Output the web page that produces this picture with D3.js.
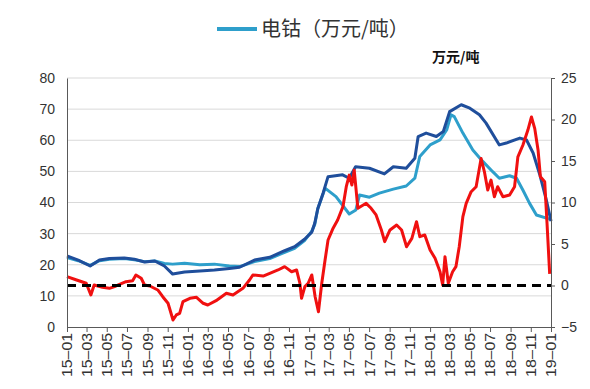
<!DOCTYPE html>
<meta charset="utf-8">
<body>
<script src="https://cdn.jsdelivr.net/npm/d3@7"></script>
<style>
    html, body {
        margin: 0;
        background: #fff;
    }
    text { font-family: "Liberation Sans", Arial, sans-serif; }
</style>
<script>
var width = 590,
    height = 389;

// dark blue series (left axis)
var darkSeries = [
    ["2015-01-01", 22.8], ["2015-02-04", 21.5], ["2015-03-12", 19.6], ["2015-04-09", 21.5],
    ["2015-05-09", 22.0], ["2015-06-23", 22.2], ["2015-07-23", 21.8], ["2015-08-23", 20.9],
    ["2015-09-23", 21.2], ["2015-10-22", 19.6], ["2015-11-16", 17.0], ["2015-12-22", 17.7],
    ["2016-02-06", 18.0], ["2016-03-21", 18.3], ["2016-05-05", 18.8], ["2016-06-05", 19.2],
    ["2016-07-20", 21.5], ["2016-09-04", 22.4], ["2016-10-19", 24.5], ["2016-11-18", 25.8],
    ["2016-12-18", 28.2], ["2017-01-09", 30.5], ["2017-01-18", 33.4], ["2017-01-27", 38.0],
    ["2017-02-12", 43.0], ["2017-02-27", 48.3], ["2017-04-12", 48.9], ["2017-05-02", 47.8],
    ["2017-05-21", 51.5], ["2017-07-02", 51.0], ["2017-08-16", 49.2], ["2017-09-12", 51.5],
    ["2017-10-21", 51.0], ["2017-11-16", 54.2], ["2017-11-26", 61.2], ["2017-12-20", 62.3],
    ["2018-01-20", 61.2], ["2018-02-10", 62.8], ["2018-03-01", 69.2], ["2018-04-05", 71.4],
    ["2018-05-01", 70.3], ["2018-05-30", 68.2], ["2018-06-19", 65.5], ["2018-07-29", 58.5],
    ["2018-08-19", 59.1], ["2018-09-29", 60.7], ["2018-10-19", 60.1], ["2018-11-08", 55.9],
    ["2018-11-28", 49.0], ["2018-12-18", 40.8], ["2019-01-01", 34.0]
];

// light blue series: 电钴 (left axis)
var lightSeries = [
    ["2015-01-01", 22.3], ["2015-02-04", 21.3], ["2015-03-12", 19.8], ["2015-04-09", 21.3],
    ["2015-05-09", 21.8], ["2015-06-23", 22.0], ["2015-07-23", 21.6], ["2015-08-23", 21.0],
    ["2015-09-23", 21.2], ["2015-10-22", 20.4], ["2015-11-16", 20.2], ["2015-12-22", 20.5],
    ["2016-02-06", 20.0], ["2016-03-21", 20.2], ["2016-05-05", 19.6], ["2016-06-05", 19.4],
    ["2016-07-20", 21.0], ["2016-09-04", 22.0], ["2016-10-19", 24.0], ["2016-11-18", 25.3],
    ["2016-12-18", 27.8], ["2017-01-09", 30.8], ["2017-01-18", 33.0], ["2017-01-27", 38.0],
    ["2017-02-18", 44.6], ["2017-03-23", 41.9], ["2017-05-02", 36.3], ["2017-05-22", 37.6],
    ["2017-06-02", 42.4], ["2017-07-02", 41.7], ["2017-08-01", 43.0], ["2017-09-12", 44.3],
    ["2017-10-21", 45.3], ["2017-11-16", 47.8], ["2017-12-01", 54.8], ["2018-01-01", 58.5],
    ["2018-01-31", 60.1], ["2018-02-20", 63.3], ["2018-03-05", 68.2], ["2018-03-15", 67.6],
    ["2018-04-10", 62.3], ["2018-05-10", 56.9], ["2018-06-09", 53.2], ["2018-07-09", 49.9],
    ["2018-07-29", 47.8], ["2018-08-29", 48.6], ["2018-09-19", 47.8], ["2018-10-08", 44.0],
    ["2018-10-28", 39.8], ["2018-11-18", 36.0], ["2018-12-18", 35.0], ["2019-01-01", 34.5]
];

// red series (right axis)
var redSeries = [
    ["2015-01-01", 1.06], ["2015-01-30", 0.66], ["2015-02-28", 0.27], ["2015-03-14", -1.14],
    ["2015-03-24", 0.06], ["2015-04-18", -0.22], ["2015-05-09", -0.34], ["2015-05-29", -0.06],
    ["2015-06-28", 0.46], ["2015-07-18", 0.58], ["2015-07-28", 1.27], ["2015-08-13", 0.87],
    ["2015-08-23", 0.06], ["2015-09-08", -0.06], ["2015-10-02", -0.54], ["2015-10-17", -1.35],
    ["2015-11-02", -2.14], ["2015-11-17", -4.16], ["2015-11-27", -3.55], ["2015-12-07", -3.35],
    ["2015-12-17", -1.95], ["2016-01-07", -1.54], ["2016-01-27", -1.42], ["2016-02-16", -2.14],
    ["2016-03-01", -2.35], ["2016-03-26", -1.83], ["2016-04-26", -0.94], ["2016-05-16", -1.14],
    ["2016-06-15", -0.34], ["2016-07-05", 0.66], ["2016-07-15", 1.27], ["2016-08-15", 1.14],
    ["2016-09-04", 1.47], ["2016-09-29", 1.87], ["2016-10-19", 2.27], ["2016-11-09", 1.66],
    ["2016-11-24", 1.87], ["2016-12-04", 0.27], ["2016-12-09", -1.54], ["2016-12-19", -0.14],
    ["2016-12-29", 0.27], ["2017-01-09", 1.27], ["2017-01-19", -1.35], ["2017-01-29", -3.16],
    ["2017-02-08", 0.27], ["2017-02-18", 3.07], ["2017-02-27", 5.48], ["2017-03-13", 6.8],
    ["2017-03-28", 7.89], ["2017-04-13", 9.5], ["2017-04-23", 11.9], ["2017-05-02", 13.3],
    ["2017-05-10", 12.1], ["2017-05-17", 13.9], ["2017-05-28", 9.3], ["2017-06-22", 9.9],
    ["2017-07-07", 9.3], ["2017-07-22", 8.5], ["2017-08-07", 6.69], ["2017-08-17", 5.28],
    ["2017-09-02", 6.69], ["2017-09-22", 7.29], ["2017-10-07", 6.69], ["2017-10-22", 4.67],
    ["2017-11-07", 5.68], ["2017-11-21", 7.69], ["2017-12-01", 5.88], ["2017-12-16", 6.08],
    ["2018-01-01", 4.28], ["2018-01-16", 3.28], ["2018-01-31", 1.66], ["2018-02-08", 0.06],
    ["2018-02-15", 3.47], ["2018-02-25", 0.27], ["2018-03-10", 1.66], ["2018-03-20", 2.27],
    ["2018-03-30", 4.67], ["2018-04-10", 8.29], ["2018-04-20", 9.9], ["2018-05-05", 11.3],
    ["2018-05-20", 11.9], ["2018-06-04", 15.3], ["2018-06-14", 13.7], ["2018-06-24", 11.5],
    ["2018-07-04", 12.7], ["2018-07-14", 10.7], ["2018-07-24", 11.9], ["2018-08-09", 10.7],
    ["2018-08-29", 10.9], ["2018-09-13", 11.9], ["2018-09-23", 15.5], ["2018-10-08", 16.9],
    ["2018-10-23", 18.7], ["2018-11-03", 20.3], ["2018-11-13", 18.9], ["2018-11-23", 16.3],
    ["2018-11-30", 13.1], ["2018-12-13", 12.5], ["2018-12-20", 7.5], ["2018-12-28", 1.4]
];

var leftTicks = [0, 10, 20, 30, 40, 50, 60, 70, 80],
    rightTicks = [-5, 0, 5, 10, 15, 20, 25],
    legendLabel = "电钴（万元/吨）",
    unitLabel = "万元/吨";

var parse = d3.timeParse("%Y-%m-%d");

var x = d3.scaleTime()
    .domain([parse("2015-01-01"), parse("2019-01-01")])
    .range([67, 551]);

var yL = d3.scaleLinear().domain([0, 80]).range([327, 78]);
var yR = d3.scaleLinear().domain([-5, 25]).range([327, 78]);

var svg = d3.select("body").append("svg")
    .attr("width", width)
    .attr("height", height);

// grid
svg.append("g").selectAll("line")
    .data(leftTicks.slice(1))
    .enter().append("line")
    .attr("x1", 67).attr("x2", 551)
    .attr("y1", function(d) { return yL(d); })
    .attr("y2", function(d) { return yL(d); })
    .attr("stroke", "#d9d9d9")
    .attr("stroke-width", 1);

var lineL = d3.line()
    .x(function(d) { return x(parse(d[0])); })
    .y(function(d) { return yL(d[1]); });

var lineR = d3.line()
    .x(function(d) { return x(parse(d[0])); })
    .y(function(d) { return yR(d[1]); });

svg.append("path")
    .attr("d", lineL(lightSeries))
    .attr("fill", "none")
    .attr("stroke", "#2E9FCB")
    .attr("stroke-width", 3)
    .attr("stroke-linejoin", "round");

svg.append("path")
    .attr("d", lineL(darkSeries))
    .attr("fill", "none")
    .attr("stroke", "#1F4E9B")
    .attr("stroke-width", 3)
    .attr("stroke-linejoin", "round");

svg.append("path")
    .attr("d", lineR(redSeries))
    .attr("fill", "none")
    .attr("stroke", "#F01010")
    .attr("stroke-width", 3)
    .attr("stroke-linejoin", "round");

// zero line of right axis
svg.append("line")
    .attr("x1", 67).attr("x2", 551)
    .attr("y1", yR(0)).attr("y2", yR(0))
    .attr("stroke", "#000")
    .attr("stroke-width", 3)
    .attr("stroke-dasharray", "9,6");

// axes
var xAxis = svg.append("g")
    .attr("transform", "translate(0,327)")
    .call(d3.axisBottom(x)
        .ticks(d3.timeMonth.every(2))
        .tickFormat(d3.timeFormat("%y–%m"))
        .tickSize(5)
        .tickSizeOuter(0));
xAxis.selectAll("text")
    .attr("x", -6)
    .attr("y", 0)
    .attr("dy", "0.35em")
    .attr("transform", "rotate(-90)")
    .attr("textLength", 44)
    .attr("lengthAdjust", "spacingAndGlyphs")
    .style("text-anchor", "end");

var left = svg.append("g")
    .attr("transform", "translate(67,0)")
    .call(d3.axisLeft(yL).tickValues(leftTicks).tickSize(0).tickPadding(12));

var right = svg.append("g")
    .attr("transform", "translate(551,0)")
    .call(d3.axisRight(yR).tickValues(rightTicks).tickSize(4).tickPadding(6).tickSizeOuter(0));

svg.selectAll(".domain, .tick line").attr("stroke", "#595959");
svg.selectAll(".tick text")
    .attr("fill", "#333")
    .style("font-size", "14px");

// legend
svg.append("line")
    .attr("x1", 217).attr("x2", 257)
    .attr("y1", 29).attr("y2", 29)
    .attr("stroke", "#2E9FCB")
    .attr("stroke-width", 4);

svg.append("text")
    .attr("x", 261).attr("y", 29)
    .attr("dy", "0.35em")
    .attr("fill", "#333")
    .style("font-family", "'Noto Sans CJK SC', sans-serif")
    .style("font-size", "20px")
    .text(legendLabel);

svg.append("text")
    .attr("x", 432).attr("y", 57)
    .attr("dy", "0.35em")
    .attr("fill", "#111")
    .style("font-family", "'Noto Sans CJK SC', sans-serif")
    .style("font-size", "14px")
    .style("font-weight", "bold")
    .text(unitLabel);
</script>
